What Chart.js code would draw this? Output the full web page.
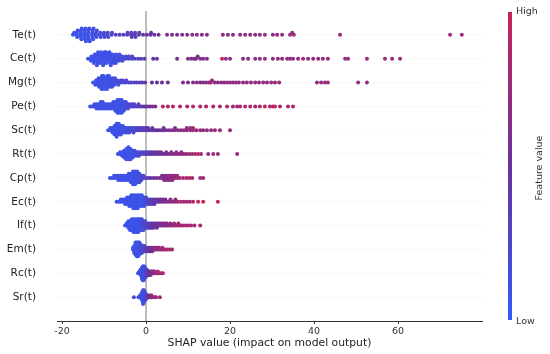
<!DOCTYPE html>
<html lang="en">
<head>
<meta charset="UTF-8">
<title>SHAP summary</title>
<style>
  body { margin: 0; background: #fff; }
  #chart { display: block; }
</style>
</head>
<body>
<canvas id="chart" width="550" height="354"></canvas>
<script src="https://cdn.jsdelivr.net/npm/chart.js"></script>
<script>
const features = ['Te(t)', 'Ce(t)', 'Mg(t)', 'Pe(t)', 'Sc(t)', 'Rt(t)', 'Cp(t)', 'Ec(t)', 'If(t)', 'Em(t)', 'Rc(t)', 'Sr(t)'];
const xTicks = [-20, 0, 20, 40, 60];

// each point: [shap value, feature value 0..1]
const teData = [
  [-17.4,.08],[-17.1,.1],
  [-16.6,.1],[-16.5,.08],[-16.4,.1],[-16.3,.12],
  [-15.7,.08],[-15.6,.1],[-15.5,.1],[-15.5,.12],[-15.4,.08],[-15.3,.1],
  [-14.8,.1],[-14.7,.08],[-14.6,.1],[-14.6,.12],[-14.5,.1],[-14.4,.08],[-14.3,.1],
  [-13.9,.1],[-13.8,.12],[-13.7,.08],[-13.7,.1],[-13.6,.1],[-13.5,.12],[-13.4,.1],
  [-12.9,.1],[-12.8,.12],[-12.7,.1],[-12.7,.15],[-12.6,.1],[-12.5,.12],
  [-12.0,.15],[-11.9,.12],[-11.8,.15],[-11.7,.18],
  [-11.1,.15],[-10.9,.2],[-10.8,.18],
  [-10.1,.2],[-10.0,.22],[-9.9,.2],
  [-9.2,.22],[-9.1,.25],[-9.0,.2],
  [-8.2,.25],[-8.1,.28],
  [-7.2,.28],[-6.3,.3],[-5.4,.3],
  [-4.5,.32],[-4.4,.3],
  [-3.6,.35],[-3.5,.32],[-3.4,.35],
  [-2.7,.35],[-2.6,.38],[-2.5,.35],
  [-1.7,.4],[-1.6,.38],
  [-0.7,.42],[0.2,.45],[1.1,.45],[1.2,.5],[2.0,.5],[3.0,.52],
  [5.0,.6],[6.2,.6],[7.4,.55],[8.6,.62],[9.8,.65],[11.0,.6],[12.1,.65],[13.3,.62],[14.5,.65],
  [18.3,.7],[19.5,.65],[20.7,.7],[22.4,.68],[23.6,.7],[24.8,.72],[26.0,.65],[27.1,.7],[28.3,.72],
  [30.2,.7],[31.2,.75],[32.4,.7],[34.3,.75],[34.8,.72],[35.2,.75],[46.2,.75],[72.4,.78],[75.2,.75]
];
const ceData = [
  [-13.8,.1],
  [-13.1,.1],[-13.0,.1],[-13.1,.12],
  [-12.4,.1],[-12.3,.1],[-12.3,.08],[-12.2,.1],[-12.4,.12],
  [-11.7,.1],[-11.6,.08],[-11.6,.1],[-11.5,.12],[-11.5,.1],[-11.4,.1],[-11.7,.12],
  [-10.9,.1],[-10.8,.08],[-10.8,.1],[-10.7,.12],[-10.9,.1],[-10.7,.1],
  [-10.2,.1],[-10.1,.1],[-10.1,.08],[-10.0,.12],[-10.0,.1],[-9.9,.1],[-10.2,.12],
  [-9.4,.1],[-9.3,.12],[-9.3,.1],[-9.2,.1],[-9.4,.08],[-9.5,.1],
  [-8.7,.1],[-8.6,.12],[-8.6,.1],[-8.5,.1],[-8.5,.12],[-8.7,.08],[-8.4,.1],
  [-7.9,.12],[-7.8,.1],[-7.8,.15],[-7.9,.1],[-7.7,.12],
  [-7.2,.15],[-7.1,.12],[-7.0,.15],[-7.1,.1],[-7.2,.12],
  [-6.4,.15],[-6.3,.18],[-6.4,.12],[-6.3,.15],
  [-5.7,.18],[-5.6,.15],[-5.6,.2],
  [-4.9,.2],[-4.8,.22],
  [-4.2,.22],[-4.1,.25],
  [-3.4,.25],[-3.3,.28],
  [-2.7,.3],[-1.9,.3],[-1.2,.32],[-0.4,.35],
  [1.7,.5],[2.6,.45],[7.4,.55],[10.0,.6],[10.8,.62],[11.5,.6],[11.9,.65],[12.3,.62],[12.9,.65],[13.6,.6],[14.5,.62],
  [18.1,.95],[19.0,.65],[20.0,.68],[23.1,.65],[24.3,.7],[26.0,.68],[27.1,.7],[28.3,.72],
  [30.2,.7],[31.4,.72],[32.4,.7],[33.6,.75],[34.3,.72],[35.0,.7],[36.2,.72],[37.4,.75],[38.6,.7],[39.8,.72],
  [41.0,.75],[42.1,.72],[43.3,.75],[47.4,.75],[48.1,.72],[52.6,.75],[56.9,.75],[58.6,.72],[60.5,.75]
];
const mgData = [
  [-12.6,.1],
  [-12.0,.1],[-11.9,.12],[-12.1,.1],
  [-11.3,.1],[-11.2,.08],[-11.4,.1],[-11.3,.12],[-11.2,.1],
  [-10.6,.1],[-10.7,.08],[-10.5,.1],[-10.6,.12],[-10.7,.1],[-10.5,.1],[-10.6,.08],
  [-10.0,.1],[-9.9,.12],[-10.1,.1],[-10.0,.08],[-9.9,.1],[-10.1,.12],[-10.0,.1],
  [-9.3,.1],[-9.4,.12],[-9.2,.1],[-9.3,.08],[-9.4,.1],[-9.2,.12],[-9.3,.1],
  [-8.7,.12],[-8.6,.1],[-8.8,.1],[-8.7,.15],[-8.6,.12],[-8.8,.1],
  [-8.0,.12],[-8.1,.15],[-7.9,.12],[-8.0,.1],[-8.1,.12],
  [-7.4,.15],[-7.3,.12],[-7.5,.15],[-7.4,.18],
  [-6.7,.15],[-6.8,.18],[-6.6,.15],
  [-6.1,.18],[-6.0,.2],
  [-5.4,.2],[-5.5,.22],
  [-4.8,.22],[-4.7,.25],
  [-4.1,.25],[-3.5,.28],[-2.8,.3],[-2.2,.3],[-1.5,.32],[-0.9,.35],[-0.2,.38],
  [1.4,.5],[2.6,.48],[3.8,.5],[5.2,.52],[8.8,.6],[10.0,.6],[11.2,.62],[12.1,.65],[12.9,.62],[13.6,.65],
  [14.3,.68],[15.0,.7],[15.4,.9],[15.7,.68],[16.4,.7],[17.1,.65],[17.9,.7],[18.6,.68],[19.3,.72],[20.0,.7],
  [20.7,.68],[21.4,.72],[22.1,.7],[23.1,.72],[24.0,.7],[25.0,.72],[26.0,.7],[26.9,.75],[27.9,.72],[28.8,.7],
  [29.8,.75],[30.7,.72],[31.7,.75],[40.7,.72],[41.7,.75],[42.6,.72],[43.3,.75],[50.5,.75],[52.6,.72]
];
const peData = [
  [-13.3,.1],[-12.8,.1],[-12.3,.1],[-12.3,.1],
  [-11.8,.1],[-11.8,.1],[-11.8,.1],
  [-11.3,.1],[-11.3,.1],[-11.3,.1],
  [-10.8,.1],[-10.8,.1],[-10.8,.1],[-10.8,.1],
  [-10.3,.1],[-10.3,.1],[-10.3,.1],[-10.3,.1],
  [-9.8,.1],[-9.8,.1],[-9.8,.1],
  [-9.3,.12],[-9.3,.12],[-9.3,.12],
  [-8.8,.12],[-8.8,.12],[-8.8,.12],
  [-8.3,.12],[-8.3,.12],[-8.3,.12],
  [-7.8,.12],[-7.8,.12],[-7.8,.12],[-7.8,.12],
  [-7.3,.1],[-7.3,.1],[-7.3,.1],[-7.3,.1],[-7.3,.1],
  [-6.8,.1],[-6.8,.1],[-6.8,.1],[-6.8,.1],[-6.8,.1],[-6.8,.1],[-6.8,.1],
  [-6.3,.1],[-6.3,.1],[-6.3,.1],[-6.3,.1],[-6.3,.1],[-6.3,.1],[-6.3,.1],
  [-5.8,.12],[-5.8,.12],[-5.8,.12],[-5.8,.12],[-5.8,.12],[-5.8,.12],[-5.8,.12],
  [-5.3,.15],[-5.3,.15],[-5.3,.15],[-5.3,.15],[-5.3,.15],
  [-4.8,.18],[-4.8,.18],[-4.8,.18],[-4.8,.18],
  [-4.3,.2],[-4.3,.2],[-4.3,.2],
  [-3.8,.22],[-3.8,.22],[-3.3,.25],[-3.3,.25],[-2.8,.28],[-2.8,.28],
  [-2.3,.3],[-1.8,.32],[-1.8,.32],[-1.3,.35],[-0.8,.4],[-0.3,.42],[0.3,.5],[0.9,.55],[1.5,.6],[2.2,.6],
  [4.0,.9],[5.2,.85],[6.4,.9],[8.1,.85],[9.8,.92],[11.2,.9],[12.9,.85],[14.3,.9],[16.0,.92],[17.6,.85],
  [19.3,.9],[20.7,.8],[21.7,.75],[22.4,.85],[23.6,.9],[24.8,.85],[26.0,.75],[27.1,.9],[28.3,1.0],[29.5,.85],
  [30.2,.95],[30.7,1.0],[31.9,.85],[33.8,.9],[35.0,.85]
];
const scData = [
  [-9.0,.1],[-8.5,.1],[-8.5,.1],
  [-8.0,.1],[-8.0,.1],[-8.0,.1],
  [-7.5,.1],[-7.5,.1],[-7.5,.1],[-7.5,.1],[-7.5,.1],
  [-7.0,.1],[-7.0,.1],[-7.0,.1],[-7.0,.1],[-7.0,.1],[-7.0,.1],[-7.0,.1],
  [-6.5,.1],[-6.5,.1],[-6.5,.1],[-6.5,.1],[-6.5,.1],[-6.5,.1],
  [-6.0,.12],[-6.0,.12],[-6.0,.12],[-6.0,.12],[-6.0,.12],
  [-5.5,.12],[-5.5,.12],[-5.5,.12],[-5.5,.12],
  [-5.0,.15],[-5.0,.15],[-5.0,.15],
  [-4.5,.15],[-4.5,.15],[-4.5,.15],
  [-4.0,.18],[-4.0,.18],[-4.0,.18],
  [-3.5,.2],[-3.5,.2],[-3.0,.22],[-3.0,.22],[-3.0,.22],
  [-2.5,.25],[-2.5,.25],[-2.0,.28],[-2.0,.28],[-1.5,.3],[-1.5,.3],[-1.0,.32],[-1.0,.32],
  [-0.5,.35],[-0.5,.35],[0.0,.38],[0.0,.38],[0.5,.4],[0.5,.4],[1.0,.42],[1.5,.45],[1.5,.45],
  [2.0,.45],[2.5,.48],[3.0,.5],
  [3.6,.5],[4.2,.55],[4.2,.55],[4.8,.55],[5.5,.6],[6.2,.6],[6.9,.62],[6.9,.62],[7.6,.65],[8.3,.65],
  [9.0,.68],[9.7,.7],[9.7,.7],[10.5,.72],[10.5,.72],[11.2,.75],[11.2,.75],[12.0,.72],[12.9,.75],
  [13.6,.7],[14.5,.72],[15.5,.75],[16.4,.72],[17.6,.75],[20.0,.72]
];
const rtData = [
  [-6.7,.1],[-6.2,.1],[-6.2,.1],
  [-5.7,.1],[-5.7,.1],[-5.7,.1],
  [-5.2,.1],[-5.2,.1],[-5.2,.1],[-5.2,.1],[-5.2,.1],
  [-4.7,.1],[-4.7,.1],[-4.7,.1],[-4.7,.1],[-4.7,.1],[-4.7,.1],[-4.7,.1],
  [-4.2,.1],[-4.2,.1],[-4.2,.1],[-4.2,.1],[-4.2,.1],[-4.2,.1],[-4.2,.1],[-4.2,.1],
  [-3.7,.1],[-3.7,.1],[-3.7,.1],[-3.7,.1],[-3.7,.1],[-3.7,.1],[-3.7,.1],
  [-3.2,.12],[-3.2,.12],[-3.2,.12],[-3.2,.12],[-3.2,.12],
  [-2.7,.15],[-2.7,.15],[-2.7,.15],[-2.7,.15],
  [-2.2,.18],[-2.2,.18],[-2.2,.18],
  [-1.7,.2],[-1.7,.2],[-1.7,.2],
  [-1.2,.25],[-1.2,.25],[-0.7,.28],[-0.7,.28],[-0.2,.3],[-0.2,.3],
  [0.3,.35],[0.3,.35],[0.8,.38],[0.8,.38],[1.3,.4],[1.3,.4],[1.8,.45],[1.8,.45],
  [2.4,.48],[2.4,.48],[3.0,.5],[3.0,.5],[3.6,.52],[3.6,.52],[4.2,.55],[4.8,.58],[4.8,.58],
  [5.4,.6],[6.0,.62],[6.0,.62],[6.6,.65],[7.2,.68],[7.2,.68],[7.8,.7],[8.4,.72],[8.4,.72],
  [9.0,.75],[9.6,.72],[10.3,.78],[11.0,.8],[11.7,.85],[12.4,.95],[13.1,.8],
  [14.8,.75],[16.0,.78],[17.1,.75],[21.7,.72]
];
const cpData = [
  [-8.6,.1],[-8.1,.1],[-7.6,.1],[-7.6,.1],[-7.1,.1],[-7.1,.1],
  [-6.6,.1],[-6.6,.1],[-6.6,.1],
  [-6.1,.1],[-6.1,.1],[-6.1,.1],
  [-5.6,.1],[-5.6,.1],[-5.6,.1],
  [-5.1,.12],[-5.1,.12],[-5.1,.12],
  [-4.6,.12],[-4.6,.12],[-4.6,.12],
  [-4.1,.1],[-4.1,.1],[-4.1,.1],[-4.1,.1],
  [-3.6,.1],[-3.6,.1],[-3.6,.1],[-3.6,.1],[-3.6,.1],
  [-3.1,.1],[-3.1,.1],[-3.1,.1],[-3.1,.1],[-3.1,.1],[-3.1,.1],[-3.1,.1],
  [-2.6,.1],[-2.6,.1],[-2.6,.1],[-2.6,.1],[-2.6,.1],[-2.6,.1],[-2.6,.1],
  [-2.1,.12],[-2.1,.12],[-2.1,.12],[-2.1,.12],[-2.1,.12],[-2.1,.12],
  [-1.6,.15],[-1.6,.15],[-1.6,.15],[-1.6,.15],[-1.6,.15],
  [-1.1,.2],[-1.1,.2],[-1.1,.2],
  [-0.6,.25],[-0.6,.25],[-0.1,.3],
  [0.5,.4],[1.1,.45],[1.8,.5],[2.5,.55],[3.2,.58],
  [3.8,.6],[3.8,.6],[4.3,.62],[4.3,.62],[4.3,.62],[4.8,.65],[4.8,.65],[4.8,.65],
  [5.3,.65],[5.3,.65],[5.3,.65],[5.8,.68],[5.8,.68],[5.8,.68],[6.3,.7],[6.3,.7],[6.3,.7],
  [6.8,.72],[6.8,.72],[7.4,.75],[7.4,.75],[8.0,.8],[8.8,.85],[9.6,.8],[10.3,.95],[11.0,.8],[12.9,.78],[13.6,.75]
];
const ecData = [
  [-7.0,.1],[-6.5,.1],[-6.0,.1],[-6.0,.1],[-5.5,.1],[-5.5,.1],
  [-5.0,.1],[-5.0,.1],[-5.0,.1],
  [-4.5,.1],[-4.5,.1],[-4.5,.1],[-4.5,.1],
  [-4.0,.1],[-4.0,.1],[-4.0,.1],[-4.0,.1],[-4.0,.1],
  [-3.5,.1],[-3.5,.1],[-3.5,.1],[-3.5,.1],[-3.5,.1],[-3.5,.1],
  [-3.0,.1],[-3.0,.1],[-3.0,.1],[-3.0,.1],[-3.0,.1],[-3.0,.1],[-3.0,.1],
  [-2.5,.1],[-2.5,.1],[-2.5,.1],[-2.5,.1],[-2.5,.1],[-2.5,.1],[-2.5,.1],
  [-2.0,.1],[-2.0,.1],[-2.0,.1],[-2.0,.1],[-2.0,.1],[-2.0,.1],[-2.0,.1],
  [-1.5,.08],[-1.5,.08],[-1.5,.08],[-1.5,.08],[-1.5,.08],[-1.5,.08],
  [-1.0,.08],[-1.0,.08],[-1.0,.08],[-1.0,.08],[-1.0,.08],[-1.0,.08],
  [-0.5,.12],[-0.5,.12],[-0.5,.12],[-0.5,.12],[-0.5,.12],
  [0.0,.2],[0.0,.2],[0.0,.2],[0.0,.2],
  [0.5,.28],[0.5,.28],[0.5,.28],[1.0,.32],[1.0,.32],[1.0,.32],
  [1.5,.38],[1.5,.38],[1.5,.38],[2.0,.42],[2.0,.42],[2.0,.42],
  [2.5,.45],[2.5,.45],[3.0,.5],[3.0,.5],[3.5,.55],[3.5,.55],[4.0,.58],[4.0,.58],[4.6,.6],[4.6,.6],
  [5.2,.65],[5.8,.68],[5.8,.68],[6.4,.7],[7.0,.72],[7.0,.72],[7.6,.75],[8.3,.8],[9.0,.78],
  [9.7,.82],[10.4,.8],[11.2,.85],[12.4,1.0],[13.6,1.0],[17.1,.95]
];
const ifData = [
  [-5.0,.1],[-4.6,.1],[-4.6,.1],
  [-4.2,.1],[-4.2,.1],[-4.2,.1],[-4.2,.1],
  [-3.8,.1],[-3.8,.1],[-3.8,.1],[-3.8,.1],[-3.8,.1],
  [-3.4,.1],[-3.4,.1],[-3.4,.1],[-3.4,.1],[-3.4,.1],[-3.4,.1],
  [-3.0,.1],[-3.0,.1],[-3.0,.1],[-3.0,.1],[-3.0,.1],[-3.0,.1],[-3.0,.1],
  [-2.6,.1],[-2.6,.1],[-2.6,.1],[-2.6,.1],[-2.6,.1],[-2.6,.1],[-2.6,.1],
  [-2.2,.1],[-2.2,.1],[-2.2,.1],[-2.2,.1],[-2.2,.1],[-2.2,.1],[-2.2,.1],
  [-1.8,.1],[-1.8,.1],[-1.8,.1],[-1.8,.1],[-1.8,.1],[-1.8,.1],[-1.8,.1],
  [-1.4,.12],[-1.4,.12],[-1.4,.12],[-1.4,.12],[-1.4,.12],[-1.4,.12],
  [-1.0,.15],[-1.0,.15],[-1.0,.15],[-1.0,.15],[-1.0,.15],[-1.0,.15],
  [-0.6,.18],[-0.6,.18],[-0.6,.18],[-0.6,.18],[-0.6,.18],
  [-0.2,.22],[-0.2,.22],[-0.2,.22],[-0.2,.22],
  [0.2,.3],[0.2,.3],[0.2,.3],[0.6,.35],[0.6,.35],[0.6,.35],
  [1.0,.4],[1.0,.4],[1.0,.4],[1.4,.42],[1.4,.42],[1.4,.42],
  [1.8,.45],[1.8,.45],[1.8,.45],[2.2,.5],[2.2,.5],
  [2.6,.52],[2.6,.52],[2.6,.52],[3.0,.55],[3.0,.55],[3.4,.58],[3.4,.58],
  [3.8,.6],[3.8,.6],[4.2,.62],[4.2,.62],[4.6,.65],[4.6,.65],[5.0,.68],[5.0,.68],
  [5.4,.7],[5.8,.72],[5.8,.72],[6.2,.72],[6.7,.75],[6.7,.75],[7.2,.78],[7.7,.8],[7.7,.8],
  [8.2,.78],[8.8,.82],[9.4,.8],[10.0,.85],[10.7,.82],[11.5,.85],[12.9,.85]
];
const emData = [
  [-3.1,.1],[-3.1,.1],
  [-2.8,.1],[-2.8,.1],[-2.8,.1],[-2.8,.1],[-2.8,.1],
  [-2.5,.1],[-2.5,.1],[-2.5,.1],[-2.5,.1],[-2.5,.1],[-2.5,.1],[-2.5,.1],[-2.5,.1],
  [-2.2,.1],[-2.2,.1],[-2.2,.1],[-2.2,.1],[-2.2,.1],[-2.2,.1],[-2.2,.1],[-2.2,.1],[-2.2,.1],
  [-1.9,.1],[-1.9,.1],[-1.9,.1],[-1.9,.1],[-1.9,.1],[-1.9,.1],[-1.9,.1],[-1.9,.1],[-1.9,.1],
  [-1.6,.12],[-1.6,.12],[-1.6,.12],[-1.6,.12],[-1.6,.12],[-1.6,.12],[-1.6,.12],[-1.6,.12],
  [-1.3,.15],[-1.3,.15],[-1.3,.15],[-1.3,.15],[-1.3,.15],[-1.3,.15],
  [-1.0,.2],[-1.0,.2],[-1.0,.2],[-1.0,.2],[-1.0,.2],
  [-0.7,.25],[-0.7,.25],[-0.7,.25],[-0.7,.25],
  [-0.4,.3],[-0.4,.3],[-0.4,.3],[-0.4,.3],
  [-0.1,.35],[-0.1,.35],[-0.1,.35],
  [0.3,.4],[0.3,.4],[0.3,.4],[0.7,.45],[0.7,.45],[0.7,.45],
  [1.1,.5],[1.1,.5],[1.1,.5],[1.5,.55],[1.5,.55],[1.5,.55],
  [1.9,.6],[1.9,.6],[2.3,.65],[2.3,.65],[2.7,.7],[2.7,.7],[3.1,.72],[3.1,.72],
  [3.5,.75],[3.9,.78],[3.9,.78],[4.3,.8],[4.7,.82],[5.2,.85],[5.7,.85],[6.2,.8]
];
const rcData = [
  [-1.9,.1],[-1.6,.1],[-1.6,.1],
  [-1.3,.1],[-1.3,.1],[-1.3,.1],[-1.3,.1],
  [-1.0,.1],[-1.0,.1],[-1.0,.1],[-1.0,.1],[-1.0,.1],[-1.0,.1],[-1.0,.1],
  [-0.8,.1],[-0.8,.1],[-0.8,.1],[-0.8,.1],[-0.8,.1],[-0.8,.1],[-0.8,.1],[-0.8,.1],[-0.8,.1],
  [-0.6,.12],[-0.6,.12],[-0.6,.12],[-0.6,.12],[-0.6,.12],[-0.6,.12],[-0.6,.12],[-0.6,.12],[-0.6,.12],
  [-0.4,.15],[-0.4,.15],[-0.4,.15],[-0.4,.15],[-0.4,.15],[-0.4,.15],[-0.4,.15],[-0.4,.15],
  [-0.2,.2],[-0.2,.2],[-0.2,.2],[-0.2,.2],[-0.2,.2],[-0.2,.2],
  [0.0,.25],[0.0,.25],[0.0,.25],[0.0,.25],[0.0,.25],
  [0.2,.3],[0.2,.3],[0.2,.3],[0.2,.3],
  [0.5,.4],[0.5,.4],[0.5,.4],[0.8,.5],[0.8,.5],[0.8,.5],[1.1,.55],[1.1,.55],[1.1,.55],
  [1.4,.6],[1.4,.6],[1.7,.65],[1.7,.65],[2.0,.7],[2.0,.7],[2.4,.75],[2.8,.8],[2.8,.8],
  [3.2,.82],[3.6,.85],[4.0,.85]
];
const srData = [
  [-2.9,.2],[-1.8,.15],[-1.4,.1],[-1.4,.1],
  [-1.1,.1],[-1.1,.1],[-1.1,.1],[-1.1,.1],
  [-0.9,.1],[-0.9,.1],[-0.9,.1],[-0.9,.1],[-0.9,.1],[-0.9,.1],
  [-0.7,.1],[-0.7,.1],[-0.7,.1],[-0.7,.1],[-0.7,.1],[-0.7,.1],[-0.7,.1],[-0.7,.1],[-0.7,.1],
  [-0.5,.12],[-0.5,.12],[-0.5,.12],[-0.5,.12],[-0.5,.12],[-0.5,.12],[-0.5,.12],[-0.5,.12],
  [-0.3,.15],[-0.3,.15],[-0.3,.15],[-0.3,.15],[-0.3,.15],[-0.3,.15],
  [-0.1,.2],[-0.1,.2],[-0.1,.2],[-0.1,.2],
  [0.1,.3],[0.1,.3],[0.1,.3],[0.4,.4],[0.4,.4],[0.7,.5],[0.7,.5],
  [1.0,.6],[1.0,.6],[1.3,.65],[1.3,.65],[1.6,.7],[2.0,.75],[2.4,.8],[3.3,.8]
];
const featureData = [teData, ceData, mgData, peData, scData, rtData, cpData, ecData, ifData, emData, rcData, srData];

// colour scale, low -> high
const lowColor = [50, 90, 250];
const midColor = [105, 50, 155];
const highColor = [200, 35, 90];

function featureColor(t) {
  const a = t < 0.5 ? lowColor : midColor;
  const b = t < 0.5 ? midColor : highColor;
  const f = t < 0.5 ? t / 0.5 : (t - 0.5) / 0.5;
  return 'rgb(' + a.map((c, i) => Math.round(c + (b[i] - c) * f)).join(',') + ')';
}

// beeswarm offsets, same idea as shap: bin the values, stack points in each bin
function swarm(xs) {
  const nbins = 100, rowHeight = 0.4;
  const mn = Math.min(...xs), mx = Math.max(...xs);
  const quant = xs.map(x => Math.round(nbins * (x - mn) / (mx - mn + 1e-8)));
  const order = xs.map((_, i) => i).sort((a, b) => quant[a] - quant[b] || a - b);
  const ys = new Array(xs.length).fill(0);
  let layer = 0, last = null;
  for (const i of order) {
    if (quant[i] !== last) layer = 0;
    ys[i] = Math.ceil(layer / 2) * ((layer % 2) * 2 - 1);
    layer++;
    last = quant[i];
  }
  const top = Math.max(...ys.map(v => v + 1));
  return ys.map(v => v * 0.9 * (rowHeight / top));
}

const datasets = features.map((name, i) => {
  const row = features.length - 1 - i;
  const pts = featureData[i];
  const ys = swarm(pts.map(p => p[0]));
  return {
    label: name,
    data: pts.map((p, j) => ({ x: p[0], y: row + ys[j] })),
    pointBackgroundColor: pts.map(p => featureColor(p[1])),
    pointBorderWidth: 0,
    pointRadius: 2,
    pointHoverRadius: 2
  };
});

const guides = {
  id: 'guides',
  beforeDatasetsDraw(chart) {
    const { ctx, chartArea, scales } = chart;
    ctx.save();
    ctx.strokeStyle = '#cccccc';
    ctx.lineWidth = 0.6;
    ctx.setLineDash([1, 3]);
    features.forEach((_, i) => {
      const y = scales.y.getPixelForValue(i);
      ctx.beginPath();
      ctx.moveTo(chartArea.left, y);
      ctx.lineTo(chartArea.right, y);
      ctx.stroke();
    });
    ctx.setLineDash([]);
    const x0 = scales.x.getPixelForValue(0);
    ctx.strokeStyle = '#999999';
    ctx.lineWidth = 1.3;
    ctx.beginPath();
    ctx.moveTo(x0, chartArea.top);
    ctx.lineTo(x0, chartArea.bottom);
    ctx.stroke();
    ctx.restore();
  }
};

const colorBar = {
  id: 'colorBar',
  afterDraw(chart) {
    const ctx = chart.ctx;
    const top = 12, bottom = 320, left = 508, w = 4;
    const g = ctx.createLinearGradient(0, bottom, 0, top);
    g.addColorStop(0, featureColor(0));
    g.addColorStop(0.5, featureColor(0.5));
    g.addColorStop(1, featureColor(1));
    ctx.save();
    ctx.fillStyle = g;
    ctx.fillRect(left, top, w, bottom - top);
    ctx.fillStyle = '#333';
    ctx.font = '9.5px "DejaVu Sans"';
    ctx.textBaseline = 'middle';
    ctx.fillText('High', left + w + 4, top);
    ctx.fillText('Low', left + w + 4, bottom + 2);
    ctx.translate(540, 168);
    ctx.rotate(-Math.PI / 2);
    ctx.textAlign = 'center';
    ctx.font = '9.5px "DejaVu Sans"';
    ctx.fillText('Feature value', 0, 0);
    ctx.restore();
  }
};

new Chart(document.getElementById('chart'), {
  type: 'scatter',
  data: { datasets },
  options: {
    responsive: false,
    animation: false,
    devicePixelRatio: 1,
    layout: { padding: { top: 11, right: 68, left: 0, bottom: 0 } },
    plugins: { legend: { display: false }, tooltip: { enabled: false } },
    scales: {
      x: {
        min: -21.2,
        max: 80,
        afterBuildTicks: s => { s.ticks = xTicks.map(v => ({ value: v })); },
        afterFit: s => { s.height = 33; s.paddingLeft = 0; s.paddingRight = 0; },
        grid: { drawOnChartArea: false, tickLength: 3, color: '#333' },
        border: { color: '#333', width: 1 },
        ticks: { font: { family: 'DejaVu Sans', size: 9.5 }, color: '#333', padding: 2, maxRotation: 0 },
        title: {
          display: true,
          text: 'SHAP value (impact on model output)',
          font: { family: 'DejaVu Sans', size: 10.8 },
          color: '#222',
          padding: { top: 0, bottom: 4 }
        }
      },
      y: {
        min: -1,
        max: 12,
        afterBuildTicks: s => { s.ticks = features.map((_, i) => ({ value: i })); },
        afterFit: s => { s.width = 57; s.paddingTop = 0; s.paddingBottom = 0; },
        grid: { display: false, drawTicks: false },
        border: { display: false },
        ticks: {
          padding: 21,
          font: { family: 'DejaVu Sans', size: 10.5 },
          color: '#222',
          callback: v => features[features.length - 1 - v]
        }
      }
    }
  },
  plugins: [guides, colorBar]
});
</script>
</body>
</html>
